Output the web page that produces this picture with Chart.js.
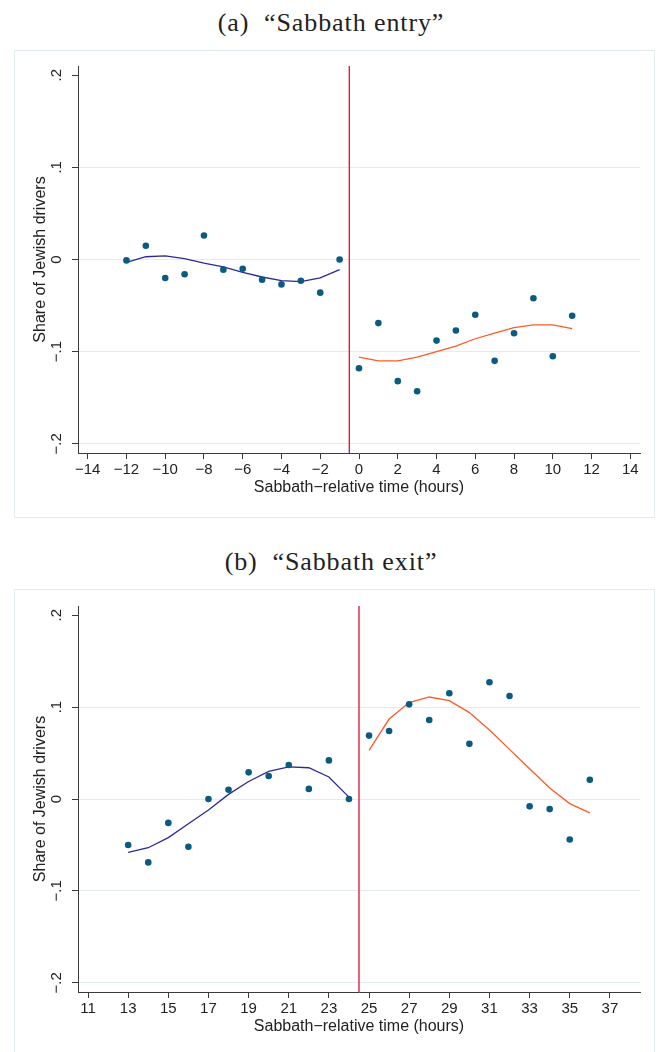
<!DOCTYPE html>
<html>
<head>
<meta charset="utf-8">
<script src="https://cdn.jsdelivr.net/npm/chart.js@4/dist/chart.umd.min.js"></script>
<style>
  html, body { margin: 0; padding: 0; background: #ffffff; }
  body { width: 662px; height: 1052px; position: relative; overflow: hidden; }
  .cap { position: absolute; left: 0; width: 662px; text-align: center;
         font-family: "Liberation Serif", "DejaVu Serif", serif; font-size: 26px; color: #222;
         letter-spacing: 0.9px; }
  .frame { position: absolute; left: 14px; width: 639px; border: 1px solid #e3edef; background: #fff; }
  canvas { display: block; }
</style>
</head>
<body>
<div class="cap" style="top:8px;">(a)&nbsp; “Sabbath entry”</div>
<div class="frame" style="top:50px;height:466px;"><canvas id="ca" width="639" height="466"></canvas></div>
<div class="cap" style="top:547px;">(b)&nbsp; “Sabbath exit”</div>
<div class="frame" style="top:589px;height:470px;"><canvas id="cb" width="639" height="466"></canvas></div>
<script>
// ---------- DATA ----------
// Panel (a) "Sabbath entry"
const hoursPreA  = [-12, -11, -10, -9, -8, -7, -6, -5, -4, -3, -2, -1];
const sharePreA  = [-0.001, 0.015, -0.020, -0.016, 0.026, -0.011, -0.010, -0.022, -0.027, -0.023, -0.036, 0.000];
const fitPreA    = [-0.003, 0.003, 0.004, 0.001, -0.004, -0.008, -0.014, -0.019, -0.023, -0.024, -0.020, -0.011];
const hoursPostA = [0, 1, 2, 3, 4, 5, 6, 7, 8, 9, 10, 11];
const sharePostA = [-0.118, -0.069, -0.132, -0.143, -0.088, -0.077, -0.060, -0.110, -0.080, -0.042, -0.105, -0.061];
const fitPostA   = [-0.106, -0.110, -0.110, -0.106, -0.100, -0.094, -0.086, -0.080, -0.074, -0.071, -0.071, -0.075];
const cutoffA    = -0.5;
const xTicksA    = [-14, -12, -10, -8, -6, -4, -2, 0, 2, 4, 6, 8, 10, 12, 14];
const xRangeA    = [-14.5, 14.5];

// Panel (b) "Sabbath exit"
const hoursPreB  = [13, 14, 15, 16, 17, 18, 19, 20, 21, 22, 23, 24];
const sharePreB  = [-0.050, -0.069, -0.026, -0.052, 0.000, 0.010, 0.029, 0.025, 0.037, 0.011, 0.042, 0.000];
const fitPreB    = [-0.058, -0.053, -0.042, -0.027, -0.012, 0.005, 0.019, 0.030, 0.035, 0.034, 0.024, 0.002];
const hoursPostB = [25, 26, 27, 28, 29, 30, 31, 32, 33, 34, 35, 36];
const sharePostB = [0.069, 0.074, 0.103, 0.086, 0.115, 0.060, 0.127, 0.112, -0.008, -0.011, -0.044, 0.021];
const fitPostB   = [0.053, 0.087, 0.105, 0.111, 0.107, 0.094, 0.075, 0.054, 0.033, 0.012, -0.005, -0.015];
const cutoffB    = 24.5;
const xTicksB    = [11, 13, 15, 17, 19, 21, 23, 25, 27, 29, 31, 33, 35, 37];
const xRangeB    = [10.5, 38.5];

// Shared y axis
const yTicks      = [-0.2, -0.1, 0, 0.1, 0.2];
const yTickLabels = ["\u2212.2", "\u2212.1", "0", ".1", ".2"];
const yRange      = [-0.21, 0.21];
const yTitle = "Share of Jewish drivers";
const xTitle = "Sabbath\u2212relative time (hours)";

// ---------- STYLE ----------
const DOT = '#0b5b80', PRE = '#2b2b95', POST = '#ff5a24', CUT = '#e0203f';
const GRID = '#e3edef', AXIS = '#3a3a3a', TXT = '#222222';
const SANS = '"Liberation Sans", Arial, Helvetica, sans-serif';

function pts(xs, ys) { return xs.map((x, i) => ({ x: x, y: ys[i] })); }

function makeChart(id, hPre, sPre, fPre, hPost, sPost, fPost, cutoff, xTicks, xRange, padTop) {
  const ctx = document.getElementById(id);
  return new Chart(ctx, {
    type: 'scatter',
    data: {
      datasets: [
        { label: 'cutoff', data: [{ x: cutoff, y: yRange[0] }, { x: cutoff, y: yRange[1] }],
          showLine: true, borderColor: CUT, borderWidth: 1.4, pointRadius: 0, order: 5 },
        { label: 'fit pre', data: pts(hPre, fPre), showLine: true, borderColor: PRE,
          borderWidth: 1.3, pointRadius: 0, tension: 0, order: 4 },
        { label: 'fit post', data: pts(hPost, fPost), showLine: true, borderColor: POST,
          borderWidth: 1.3, pointRadius: 0, tension: 0, order: 3 },
        { label: 'pre', data: pts(hPre, sPre), backgroundColor: DOT, borderWidth: 0,
          pointRadius: 3.3, order: 2 },
        { label: 'post', data: pts(hPost, sPost), backgroundColor: DOT, borderWidth: 0,
          pointRadius: 3.3, order: 1 }
      ]
    },
    options: {
      responsive: false, animation: false, devicePixelRatio: 1,
      layout: { padding: { left: 0, right: 14, top: padTop, bottom: 0 } },
      plugins: { legend: { display: false }, tooltip: { enabled: false } },
      scales: {
        x: {
          type: 'linear', min: xRange[0], max: xRange[1],
          afterBuildTicks: s => { s.ticks = xTicks.map(v => ({ value: v })); },
          afterFit: s => { s.height = 64; },
          grid: { drawOnChartArea: false, drawTicks: true, tickLength: 6, tickColor: AXIS, tickWidth: 1 },
          border: { display: true, color: AXIS, width: 1 },
          ticks: { color: TXT, font: { family: SANS, size: 15 }, padding: 2, maxRotation: 0, autoSkip: false,
                   callback: v => (v < 0 ? '\u2212' + Math.abs(v) : String(v)) },
          title: { display: true, text: xTitle, color: TXT, font: { family: SANS, size: 16 },
                   padding: { top: 0, bottom: 20 } }
        },
        y: {
          type: 'linear', min: yRange[0], max: yRange[1],
          afterBuildTicks: s => { s.ticks = yTicks.map(v => ({ value: v })); },
          afterFit: s => { s.width = 63; },
          grid: { color: c => (c.tick && Math.abs(c.tick.value - 0.2) < 1e-9) ? 'rgba(0,0,0,0)' : GRID,
                  lineWidth: 1, drawTicks: true, tickLength: 6, tickColor: AXIS, tickWidth: 1 },
          border: { display: true, color: AXIS, width: 1 },
          ticks: { color: TXT, font: { family: SANS, size: 15 }, padding: 5, minRotation: 90, maxRotation: 90,
                   crossAlign: 'center', autoSkip: false,
                   callback: (v) => { const i = yTicks.findIndex(t => Math.abs(t - v) < 1e-9); return i >= 0 ? yTickLabels[i] : ''; } },
          title: { display: true, text: yTitle, color: TXT, font: { family: SANS, size: 16 },
                   padding: { top: 16, bottom: 0 } }
        }
      }
    }
  });
}

makeChart('ca', hoursPreA, sharePreA, fitPreA, hoursPostA, sharePostA, fitPostA, cutoffA, xTicksA, xRangeA, 15);
makeChart('cb', hoursPreB, sharePreB, fitPreB, hoursPostB, sharePostB, fitPostB, cutoffB, xTicksB, xRangeB, 16);
</script>
</body>
</html>
